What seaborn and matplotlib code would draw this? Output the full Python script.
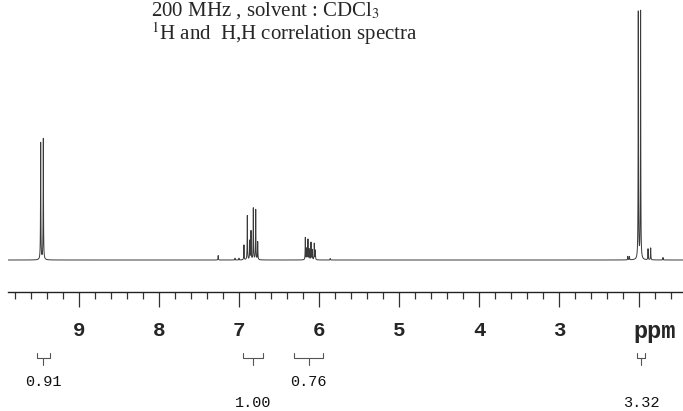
import numpy as np
import pandas as pd
import matplotlib
matplotlib.use("Agg")
import matplotlib.pyplot as plt
import seaborn as sns
from matplotlib.ticker import FixedLocator, FixedFormatter, MultipleLocator

# peak list (ppm, relative intensity, tallest line = 100)
peak_ppm = [9.479, 9.446,
            7.26, 7.05, 7.00,
            6.938, 6.896, 6.866, 6.850, 6.821, 6.791, 6.766,
            6.171, 6.154, 6.138, 6.121, 6.100, 6.084, 6.059, 6.046,
            5.86,
            2.14, 2.12, 2.009, 1.980, 1.887, 1.854, 1.70]
peak_int = [47.2, 48.8,
            1.8, 0.7, 0.7,
            6.0, 17.8, 7.6, 11.5, 20.8, 20.2, 7.2,
            9.0, 4.5, 8.2, 4.2, 7.0, 4.0, 6.6, 3.8,
            0.6,
            1.4, 1.4, 99.7, 100.0, 4.4, 4.8, 1.0]

# integrals
integral_start = [9.53, 6.95, 6.31, 2.03]
integral_end = [9.36, 6.70, 5.95, 1.92]
integral_value = ["0.91", "1.00", "0.76", "3.32"]

tick_ppm = [2, 3, 4, 5, 6, 7, 8, 9]
tick_text = ["", "3", "4", "5", "6", "7", "8", "9"]
title_lines = ["200 MHz , solvent : CDCl$_3$",
               "$^1$H and  H,H correlation spectra"]

# build the trace from the peak list
ppm = np.arange(1.45, 9.89, 0.0005)
hw = 0.0025
intensity = np.zeros_like(ppm)
for p, h in zip(peak_ppm, peak_int):
    intensity += h * hw ** 2 / ((ppm - p) ** 2 + hw ** 2)
df = pd.DataFrame({"ppm": ppm, "intensity": intensity})

sns.set_theme(style="white")
plt.rcParams["font.family"] = ["DejaVu Sans"]
plt.rcParams["mathtext.fontset"] = "stix"
plt.rcParams["path.simplify"] = False

fig = plt.figure(figsize=(6.83, 4.11), dpi=100)
ax = fig.add_axes([8 / 683, 1 - 292 / 411, 675 / 683, 292 / 411])
sns.lineplot(data=df, x="ppm", y="intensity", ax=ax, color="#3a3a3a",
             lw=0.7, estimator=None, sort=False)
ax.set_xlim(9.8875, 1.45)
ax.set_ylim(-32 / 2.48, 260 / 2.48)
for s in ["top", "left", "right"]:
    ax.spines[s].set_visible(False)
ax.spines["bottom"].set_color("#222222")
ax.spines["bottom"].set_linewidth(1.0)
ax.set_yticks([])
ax.set_xlabel("")
ax.set_ylabel("")
ax.xaxis.set_major_locator(FixedLocator(tick_ppm))
ax.xaxis.set_major_formatter(FixedFormatter(tick_text))
ax.xaxis.set_minor_locator(MultipleLocator(0.2))
ax.tick_params(axis="x", which="major", bottom=True, direction="out",
               length=10.8, width=0.9, color="#333333", pad=10)
ax.tick_params(axis="x", which="minor", bottom=True, direction="out",
               length=5, width=0.9, color="#333333")
for lab in ax.get_xticklabels():
    lab.set_fontfamily("Liberation Mono")
    lab.set_fontweight("bold")
    lab.set_fontsize(15)
ax.text(1.8, -39 / 292, "ppm", transform=ax.get_xaxis_transform(),
        ha="center", va="center", fontfamily="Liberation Mono",
        fontweight="bold", fontsize=17)

# title block
fig.text(151 / 683, 1 - 16 / 411, title_lines[0], fontfamily="Liberation Serif",
         fontsize=15, va="baseline", ha="left")
fig.text(151 / 683, 1 - 40 / 411, title_lines[1], fontfamily="Liberation Serif",
         fontsize=15, va="baseline", ha="left")

# integral brackets
ax2 = fig.add_axes([8 / 683, 0, 675 / 683, 71 / 411])
ax2.set_xlim(9.8875, 1.45)
ax2.set_ylim(411, 340)
ax2.axis("off")
for i, (s, e, v) in enumerate(zip(integral_start, integral_end, integral_value)):
    c = (s + e) / 2
    ax2.plot([s, s, e, e], [353, 358, 358, 353], color="#555555", lw=0.8)
    ax2.plot([c, c], [358, 365], color="#555555", lw=0.8)
    row = 382 if i % 2 == 0 else 403
    ax2.text(c, row, v, ha="center", va="center", fontfamily="Liberation Mono",
             fontsize=11, color="#111111")

plt.savefig("out.png", dpi=100)
